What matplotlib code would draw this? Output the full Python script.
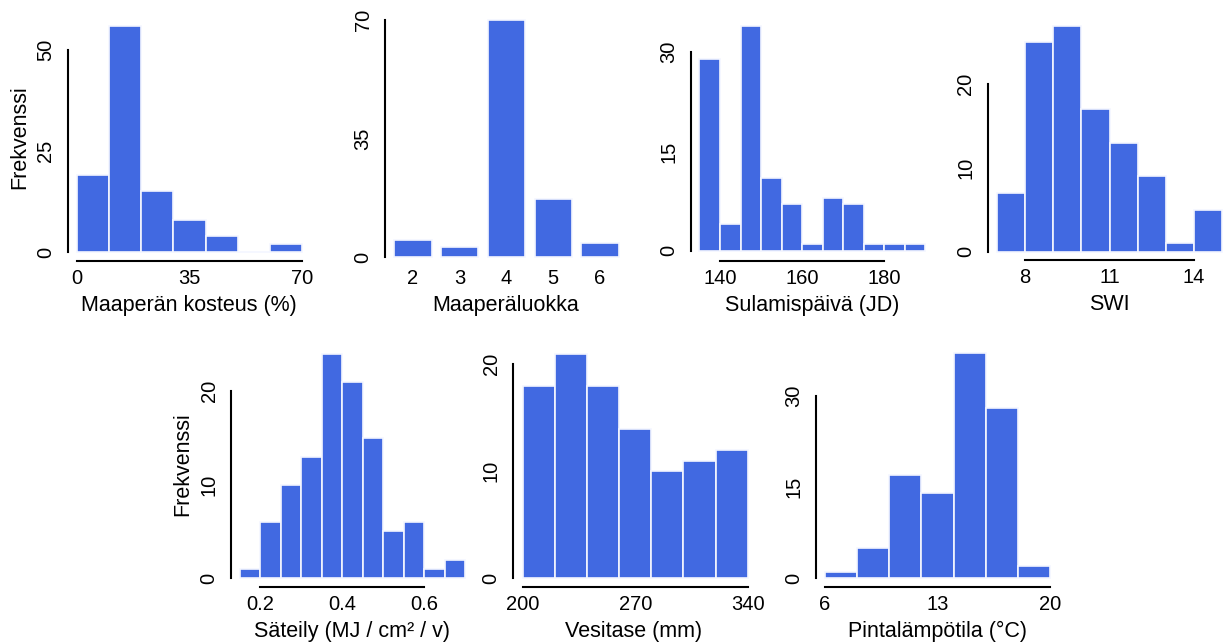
import matplotlib
matplotlib.use("Agg")
import matplotlib.pyplot as plt

plt.rcParams['font.family'] = ['Liberation Sans', 'DejaVu Sans']

W, H = 1227, 644

# histogram data: bin breaks and counts
moisture_breaks = [0, 10, 20, 30, 40, 50, 60, 70]
moisture_counts = [19, 56, 15, 8, 4, 0, 2]

soil_classes = [2, 3, 4, 5, 6]
soil_counts = [5, 3, 70, 17, 4]

melt_breaks = [135, 140, 145, 150, 155, 160, 165, 170, 175, 180, 185, 190]
melt_counts = [29, 4, 34, 11, 7, 1, 8, 7, 1, 1, 1]

swi_breaks = [7, 8, 9, 10, 11, 12, 13, 14, 15]
swi_counts = [7, 25, 27, 17, 13, 9, 1, 5]

rad_breaks = [0.15, 0.20, 0.25, 0.30, 0.35, 0.40, 0.45, 0.50, 0.55, 0.60, 0.65, 0.70]
rad_counts = [1, 6, 10, 13, 24, 21, 15, 5, 6, 1, 2]

wb_breaks = [200, 220, 240, 260, 280, 300, 320, 340]
wb_counts = [18, 21, 18, 14, 10, 11, 12]

temp_breaks = [6, 8, 10, 12, 14, 16, 18, 20]
temp_counts = [1, 5, 17, 14, 37, 28, 2]

bar_col = '#4169E1'
tick_fs = 14.5
lab_fs = 15.5


def make_axes(fig, left, bottom, right, top, xref, yref):
    # xref/yref: ((value, pixel), (value, pixel)) to pin the scale to the picture
    ax = fig.add_axes([left / W, 1 - bottom / H, (right - left) / W, (bottom - top) / H])
    (xa, pa), (xb, pb) = xref
    sx = (pb - pa) / (xb - xa)
    ax.set_xlim(xa + (left - pa) / sx, xa + (right - pa) / sx)
    (ya, qa), (yb, qb) = yref
    sy = (qa - qb) / (yb - ya)
    ax.set_ylim(ya - (bottom - qa) / sy, ya + (qa - top) / sy)
    for s in ['top', 'right']:
        ax.spines[s].set_visible(False)
    ax.tick_params(length=0, labelsize=tick_fs)
    ax.tick_params(axis='x', pad=6)
    ax.tick_params(axis='y', pad=9)
    ax.spines['left'].set_linewidth(1.5)
    ax.spines['bottom'].set_linewidth(1.5)
    return ax


def style_ticks(ax, xticks, yticks, xlabel):
    ax.set_yticks(yticks)
    ax.set_yticklabels([str(t) for t in yticks], rotation=90, va='center')
    ax.spines['left'].set_bounds(yticks[0], yticks[-1])
    if xticks is not None:
        ax.set_xticks(xticks)
        ax.set_xticklabels([('%g' % t) for t in xticks])
        ax.spines['bottom'].set_bounds(xticks[0], xticks[-1])
    ax.set_xlabel(xlabel, fontsize=lab_fs, labelpad=5)


def hist_bars(ax, breaks, counts):
    widths = [breaks[i + 1] - breaks[i] for i in range(len(counts))]
    ax.bar(breaks[:-1], counts, width=widths, align='edge',
           color=bar_col, edgecolor='#f4f6ff', linewidth=1.2)


fig = plt.figure(figsize=(W / 100, H / 100), dpi=100)

# top row
ax1 = make_axes(fig, 68, 261, 310, 10, ((0, 77), (70, 302)), ((0, 252), (50, 50)))
hist_bars(ax1, moisture_breaks, moisture_counts)
style_ticks(ax1, [0, 35, 70], [0, 25, 50], 'Maaperän kosteus (%)')

ax2 = make_axes(fig, 385, 261, 627, 10, ((2, 413), (6, 600)), ((0, 257), (70, 20)))
ax2.bar(soil_classes, soil_counts, width=0.8, color=bar_col, edgecolor='#f4f6ff', linewidth=1.2)
style_ticks(ax2, soil_classes, [0, 35, 70], 'Maaperäluokka')
ax2.spines['bottom'].set_visible(False)

ax3 = make_axes(fig, 691, 261, 933, 10, ((140, 720), (180, 884.3)), ((0, 250.7), (30, 52.3)))
hist_bars(ax3, melt_breaks, melt_counts)
style_ticks(ax3, [140, 160, 180], [0, 15, 30], 'Sulamispäivä (JD)')

ax4 = make_axes(fig, 988, 260, 1230, 10, ((8, 1025), (14, 1194)), ((0, 251.7), (20, 84.3)))
hist_bars(ax4, swi_breaks, swi_counts)
style_ticks(ax4, [8, 11, 14], [0, 10, 20], 'SWI')

# bottom row
ax5 = make_axes(fig, 231, 587, 473, 340, ((0.2, 260), (0.6, 424)), ((0, 578.3), (20, 391)))
hist_bars(ax5, rad_breaks, rad_counts)
style_ticks(ax5, [0.2, 0.4, 0.6], [0, 10, 20], 'Säteily (MJ / cm² / v)')

ax6 = make_axes(fig, 513, 587, 755, 340, ((200, 522.7), (340, 747.7)), ((0, 578.3), (20, 364.3)))
hist_bars(ax6, wb_breaks, wb_counts)
style_ticks(ax6, [200, 270, 340], [0, 10, 20], 'Vesitase (mm)')

ax7 = make_axes(fig, 816, 587, 1060, 340, ((6, 825), (20, 1050)), ((0, 578.3), (30, 396)))
hist_bars(ax7, temp_breaks, temp_counts)
style_ticks(ax7, [6, 13, 20], [0, 15, 30], 'Pintalämpötila (°C)')

fig.text(20 / W, 1 - 137 / H, 'Frekvenssi', rotation=90, ha='center', va='center', fontsize=lab_fs)
fig.text(183 / W, 1 - 464 / H, 'Frekvenssi', rotation=90, ha='center', va='center', fontsize=lab_fs)

fig.savefig('out.png', dpi=100)
